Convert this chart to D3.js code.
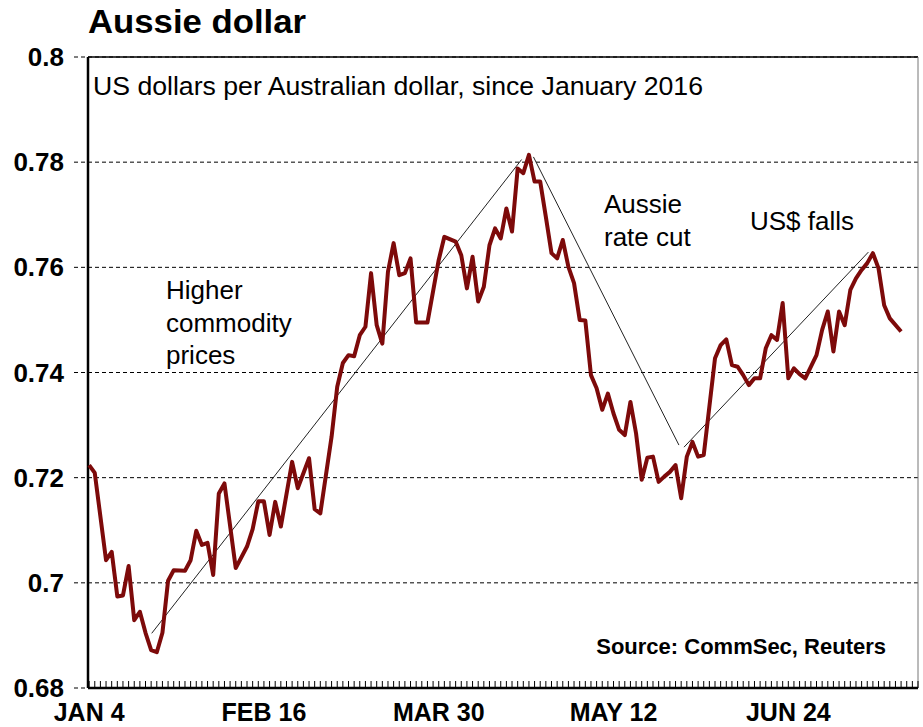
<!DOCTYPE html>
<html>
<head>
<meta charset="utf-8">
<script src="https://cdn.jsdelivr.net/npm/d3@7"></script>
<style>
body { margin: 0; background: #fff; }
text { font-family: "Liberation Sans", Arial, sans-serif; fill: #000; }
</style>
</head>
<body>
<svg id="chart"></svg>
<script>
// trading day counted from Jan 4 2016, and US dollars per A$ on that day
const tradingDay = [
    0, 1, 3, 4, 5, 6, 7, 8, 9, 10,
    11, 12, 13, 14, 15, 17, 18, 19, 20, 21,
    22, 23, 24, 26, 28, 29, 30, 31, 32, 33,
    34, 36, 37, 39, 40, 41, 43, 44, 45, 46,
    47, 48, 49, 50, 51, 52, 53, 54, 55, 56,
    57, 58, 60, 62, 63, 65, 66, 67, 68, 69,
    70, 71, 72, 73, 74, 75, 76, 77, 78, 79,
    80, 81, 82, 83, 84, 85, 86, 87, 88, 89,
    90, 91, 92, 93, 94, 95, 96, 97, 98, 99,
    100, 101, 102, 103, 104, 105, 106, 107, 108, 109,
    111, 112, 113, 114, 115, 116, 117, 118, 119, 120,
    121, 122, 123, 124, 125, 126, 127, 129, 130, 131,
    132, 133, 134, 135, 136, 137, 138, 139, 140, 141,
    142, 144
];
const audUsd = [
    0.7224, 0.7209, 0.7043, 0.7059, 0.6974, 0.6976, 0.7032, 0.6929, 0.6945, 0.6905,
    0.6872, 0.6868, 0.6905, 0.7004, 0.7024, 0.7023, 0.7043, 0.7099, 0.7072, 0.7076,
    0.7015, 0.7170, 0.7189, 0.7028, 0.7069, 0.7102, 0.7155, 0.7155, 0.7091, 0.7154,
    0.7107, 0.7230, 0.7180, 0.7237, 0.7140, 0.7132, 0.7278, 0.7373, 0.7418, 0.7433,
    0.7431, 0.7471, 0.7487, 0.7589, 0.7490, 0.7455, 0.7592, 0.7646, 0.7585, 0.7589,
    0.7617, 0.7495, 0.7495, 0.7614, 0.7658, 0.7649, 0.7623, 0.7560, 0.7620, 0.7535,
    0.7563, 0.7642, 0.7674, 0.7655, 0.7712, 0.7668, 0.7788, 0.7779, 0.7814, 0.7763,
    0.7763, 0.7696, 0.7627, 0.7617, 0.7652, 0.7601, 0.7570, 0.7500, 0.7499, 0.7395,
    0.7370, 0.7329, 0.7360, 0.7322, 0.7291, 0.7281, 0.7344, 0.7284, 0.7196, 0.7238,
    0.7240, 0.7192, 0.7202, 0.7211, 0.7224, 0.7161, 0.7240, 0.7268, 0.7240, 0.7243,
    0.7427, 0.7452, 0.7463, 0.7414, 0.7411, 0.7395, 0.7376, 0.7389, 0.7389, 0.7446,
    0.7471, 0.7462, 0.7532, 0.7389, 0.7408, 0.7397, 0.7389, 0.7433, 0.7481, 0.7516,
    0.7440, 0.7516, 0.7490, 0.7557, 0.7579, 0.7595, 0.7608, 0.7627, 0.7598, 0.7528,
    0.7503, 0.7478
];

const yTicks = [0.68, 0.7, 0.72, 0.74, 0.76, 0.78, 0.8];
const dateLabels = ["JAN 4", "FEB 16", "MAR 30", "MAY 12", "JUN 24"];
const dateLabelDay = [0, 31, 62, 93, 124];
const lastDay = 147;

// the thin hand drawn trend lines
const trendFromDay = [11.1, 78.8, 105.5];
const trendFromValue = [0.6904, 0.7810, 0.7258];
const trendToDay = [76.7, 104.6, 138.2];
const trendToValue = [0.7805, 0.7262, 0.7629];

const width = 923;
const height = 727;
const plotLeft = 88, plotRight = 918, plotTop = 57, plotBottom = 688;

let svg = d3.select("#chart")
    .attr("width", width)
    .attr("height", height);

svg.append("rect")
    .attr("width", width)
    .attr("height", height)
    .attr("fill", "#fff");

let x = d3.scaleLinear().domain([-0.2, lastDay]).range([plotLeft, plotRight]);
let y = d3.scaleLinear().domain([0.68, 0.8]).range([plotBottom, plotTop]);

// dashed grid lines, they stick out a little to the left of the axis
svg.append("g")
    .selectAll("line")
    .data(yTicks)
    .enter().append("line")
    .attr("x1", plotLeft - 14)
    .attr("x2", plotRight)
    .attr("y1", d => y(d))
    .attr("y2", d => y(d))
    .attr("stroke", "#000")
    .attr("stroke-width", 1)
    .attr("stroke-dasharray", "4,3");

svg.append("g")
    .selectAll("text")
    .data(yTicks)
    .enter().append("text")
    .attr("x", 64)
    .attr("y", d => y(d))
    .attr("dy", "0.35em")
    .attr("text-anchor", "end")
    .style("font-size", "26px")
    .style("font-weight", "bold")
    .text(d => String(+d.toFixed(2)));

// frame
svg.append("line")
    .attr("x1", plotLeft).attr("x2", plotRight)
    .attr("y1", plotTop).attr("y2", plotTop)
    .attr("stroke", "#000").attr("stroke-width", 1.5);
svg.append("line")
    .attr("x1", plotRight).attr("x2", plotRight)
    .attr("y1", plotTop).attr("y2", plotBottom)
    .attr("stroke", "#777").attr("stroke-width", 1);

// one small tick for every trading day
svg.append("g")
    .selectAll("line")
    .data(d3.range(0, lastDay + 1))
    .enter().append("line")
    .attr("x1", d => x(d))
    .attr("x2", d => x(d))
    .attr("y1", plotBottom - 7)
    .attr("y2", plotBottom)
    .attr("stroke", "#000")
    .attr("stroke-width", 1);

svg.append("line")
    .attr("x1", plotLeft).attr("x2", plotRight)
    .attr("y1", plotBottom).attr("y2", plotBottom)
    .attr("stroke", "#000").attr("stroke-width", 2.5);
svg.append("line")
    .attr("x1", plotLeft).attr("x2", plotLeft)
    .attr("y1", plotTop).attr("y2", plotBottom)
    .attr("stroke", "#000").attr("stroke-width", 2.5);

svg.append("g")
    .selectAll("text")
    .data(dateLabels)
    .enter().append("text")
    .attr("x", (d, i) => x(dateLabelDay[i]))
    .attr("y", 721)
    .attr("text-anchor", "middle")
    .style("font-size", "25px")
    .style("font-weight", "bold")
    .text(d => d);

// trend lines go under the series
svg.append("g")
    .selectAll("line")
    .data(trendFromDay)
    .enter().append("line")
    .attr("x1", (d, i) => x(trendFromDay[i]))
    .attr("y1", (d, i) => y(trendFromValue[i]))
    .attr("x2", (d, i) => x(trendToDay[i]))
    .attr("y2", (d, i) => y(trendToValue[i]))
    .attr("stroke", "#222")
    .attr("stroke-width", 1);

let points = tradingDay.map((d, i) => ({day: d, value: audUsd[i]}));

let line = d3.line()
    .x(d => x(d.day))
    .y(d => y(d.value));

svg.append("path")
    .datum(points)
    .attr("d", line)
    .attr("fill", "none")
    .attr("stroke", "#7d0a0a")
    .attr("stroke-width", 4)
    .attr("stroke-linejoin", "round");

// titles and notes
svg.append("text")
    .attr("x", 88).attr("y", 33)
    .attr("textLength", 218)
    .attr("lengthAdjust", "spacingAndGlyphs")
    .style("font-size", "33px")
    .style("font-weight", "bold")
    .text("Aussie dollar");

svg.append("text")
    .attr("x", 93).attr("y", 95)
    .attr("textLength", 610)
    .attr("lengthAdjust", "spacingAndGlyphs")
    .style("font-size", "25px")
    .text("US dollars per Australian dollar, since January 2016");

let notes = [
    {x: 166, y: 299, lines: ["Higher", "commodity", "prices"]},
    {x: 604, y: 213, lines: ["Aussie", "rate cut"]},
    {x: 750, y: 230, lines: ["US$ falls"]}
];

notes.forEach(function(n) {
    let t = svg.append("text")
        .attr("x", n.x).attr("y", n.y)
        .style("font-size", "26px");
    n.lines.forEach(function(s, k) {
        t.append("tspan")
            .attr("x", n.x)
            .attr("dy", k === 0 ? 0 : 32.5)
            .text(s);
    });
});

svg.append("text")
    .attr("x", 886).attr("y", 654)
    .attr("text-anchor", "end")
    .style("font-size", "22px")
    .style("font-weight", "bold")
    .text("Source: CommSec, Reuters");
</script>
</body>
</html>
